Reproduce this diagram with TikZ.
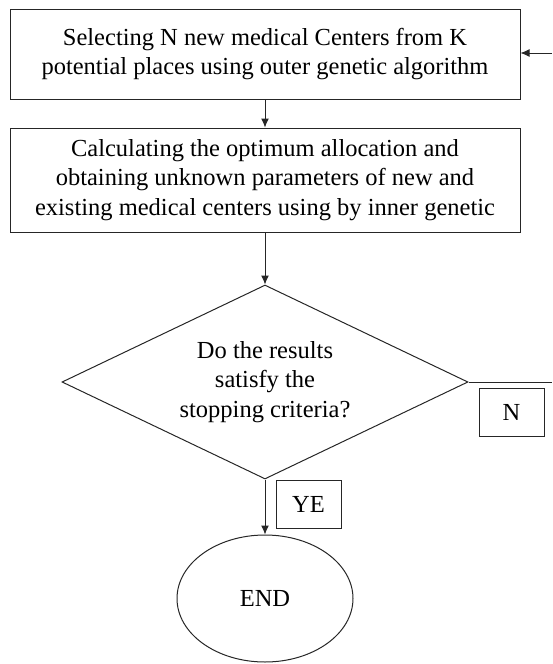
\documentclass[tikz,border=0pt]{standalone}
\usepackage{fontspec}
\setmainfont{Liberation Serif}
\usepackage{tikz}
\usetikzlibrary{positioning,arrows.meta,shapes.geometric}
\tikzset{
  flowarrow/.style={-{Latex[length=9pt,width=8pt]}, line width=1pt, black!85},
  flowline/.style={line width=1pt, black!85},
  stepbox/.style={draw=black!85, line width=1pt, minimum width=510pt, align=center, inner sep=0pt},
  decnode/.style={draw=black!85, diamond, aspect=2.09, line width=1pt, minimum width=406pt, minimum height=194pt, inner sep=0pt, align=center},
  endnode/.style={draw=black!85, ellipse, line width=1pt, minimum width=176pt, minimum height=127pt, inner sep=0pt},
  anslabel/.style={draw=black!85, line width=1pt, minimum width=65pt, minimum height=48pt, inner sep=0pt}
}

\begin{document}
\begin{tikzpicture}[x=1pt, y=-1pt, every node/.style={font=\fontsize{24.5}{29.5}\selectfont}]
      \useasboundingbox (0,0) rectangle (552,664);
      \node[stepbox, minimum height=90pt] (sel) at (265,54) {Selecting N new medical Centers from K\\potential places using outer genetic algorithm};
      \node[stepbox, minimum height=104pt] (calc) at (265,180) {Calculating the optimum allocation and\\obtaining unknown parameters of new and\\existing medical centers using by inner genetic};
      \node[decnode] (stop) at (265,382) {Do the results\\satisfy the\\stopping criteria?};
      \node[endnode] (fin) at (265,598.5) {END};
      \node[anslabel] (nlab) at (511.5,412.5) {N};
      \node[anslabel] (yelab) at (308.5,504) {YE};
      \coordinate (rin) at (552,53);
      \coordinate (rout) at (552,382);
      \draw[flowarrow] (sel) -- (calc);
      \draw[flowarrow] (calc) -- (stop);
      \draw[flowarrow] (stop.south) -- (fin);
      \draw[flowline] (stop.east) -- (rout);
      \draw[flowarrow] (rin) -- (rin -| sel.east);
    \end{tikzpicture}
\end{document}
